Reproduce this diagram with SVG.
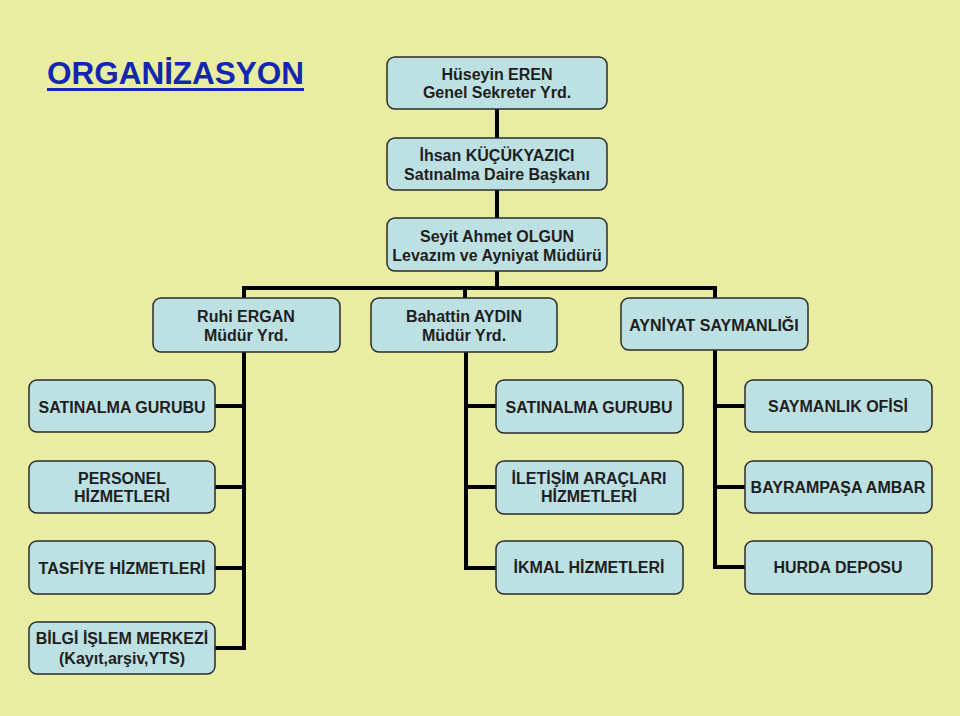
<svg xmlns="http://www.w3.org/2000/svg" width="960" height="716" viewBox="0 0 960 716">
<style>
.bg{fill:#E8EDA1}
.box{fill:#BDE0E3;stroke:#2b2b2b;stroke-width:1.5}
.t{font-family:"Liberation Sans",Arial,sans-serif;font-size:16px;font-weight:bold;fill:#1e1e1e;text-anchor:middle}
.c{stroke:#000;stroke-width:4;fill:none;stroke-linecap:square}
.title{font-family:"Liberation Sans",Arial,sans-serif;font-size:31.5px;font-weight:bold;fill:#1226B0}
</style>
<rect class="bg" x="0" y="0" width="960" height="716"/>
<g id="title">
<text class="title" x="47" y="84" textLength="257" lengthAdjust="spacingAndGlyphs">ORGANİZASYON</text>
<rect x="47" y="88" width="257" height="3" fill="#1226B0"/>
</g>
<g id="connectors">
<path class="c" d="M497 109V138M497 190V218M497 271V288M244 288H715M244 288V298M465 288V298M715 288V298"/>
<path class="c" d="M244 352V648M215 406H244M215 487H244M215 568H244M215 648H244"/>
<path class="c" d="M466 352V568M466 406H496M466 487H496M466 568H496"/>
<path class="c" d="M715 350V567M715 406H745M715 487H745M715 567H745"/>
</g>
<g id="n1"><rect class="box" x="387" y="57" width="220" height="52" rx="8"/><text class="t" x="497" y="80">Hüseyin EREN</text><text class="t" x="497" y="98">Genel Sekreter Yrd.</text></g>
<g id="n2"><rect class="box" x="387" y="138" width="220" height="52" rx="8"/><text class="t" x="497" y="161">İhsan KÜÇÜKYAZICI</text><text class="t" x="497" y="180">Satınalma Daire Başkanı</text></g>
<g id="n3"><rect class="box" x="387" y="218" width="220" height="53" rx="8"/><text class="t" x="497" y="242">Seyit Ahmet OLGUN</text><text class="t" x="497" y="261">Levazım ve Ayniyat Müdürü</text></g>
<g id="n4"><rect class="box" x="153" y="298" width="187" height="54" rx="8"/><text class="t" x="246" y="322">Ruhi ERGAN</text><text class="t" x="246" y="341">Müdür Yrd.</text></g>
<g id="n5"><rect class="box" x="371" y="298" width="186" height="54" rx="8"/><text class="t" x="464" y="322">Bahattin AYDIN</text><text class="t" x="464" y="341">Müdür Yrd.</text></g>
<g id="n6"><rect class="box" x="621" y="298" width="187" height="52" rx="8"/><text class="t" x="714" y="331">AYNİYAT SAYMANLIĞI</text></g>
<g id="n7"><rect class="box" x="29" y="380" width="186" height="52" rx="8"/><text class="t" x="122" y="413">SATINALMA GURUBU</text></g>
<g id="n8"><rect class="box" x="29" y="461" width="186" height="52" rx="8"/><text class="t" x="122" y="484">PERSONEL</text><text class="t" x="122" y="502">HİZMETLERİ</text></g>
<g id="n9"><rect class="box" x="29" y="541" width="186" height="53" rx="8"/><text class="t" x="122" y="574">TASFİYE HİZMETLERİ</text></g>
<g id="n10"><rect class="box" x="29" y="622" width="186" height="52" rx="8"/><text class="t" x="122" y="644">BİLGİ İŞLEM MERKEZİ</text><text class="t" x="122" y="664">(Kayıt,arşiv,YTS)</text></g>
<g id="n11"><rect class="box" x="496" y="380" width="187" height="53" rx="8"/><text class="t" x="589" y="413">SATINALMA GURUBU</text></g>
<g id="n12"><rect class="box" x="496" y="461" width="187" height="53" rx="8"/><text class="t" x="589" y="484">İLETİŞİM ARAÇLARI</text><text class="t" x="589" y="502">HİZMETLERİ</text></g>
<g id="n13"><rect class="box" x="496" y="541" width="187" height="53" rx="8"/><text class="t" x="589" y="573">İKMAL HİZMETLERİ</text></g>
<g id="n14"><rect class="box" x="745" y="380" width="187" height="52" rx="8"/><text class="t" x="838" y="412">SAYMANLIK OFİSİ</text></g>
<g id="n15"><rect class="box" x="745" y="461" width="187" height="52" rx="8"/><text class="t" x="838" y="493">BAYRAMPAŞA AMBAR</text></g>
<g id="n16"><rect class="box" x="745" y="541" width="187" height="53" rx="8"/><text class="t" x="838" y="573">HURDA DEPOSU</text></g>
</svg>
